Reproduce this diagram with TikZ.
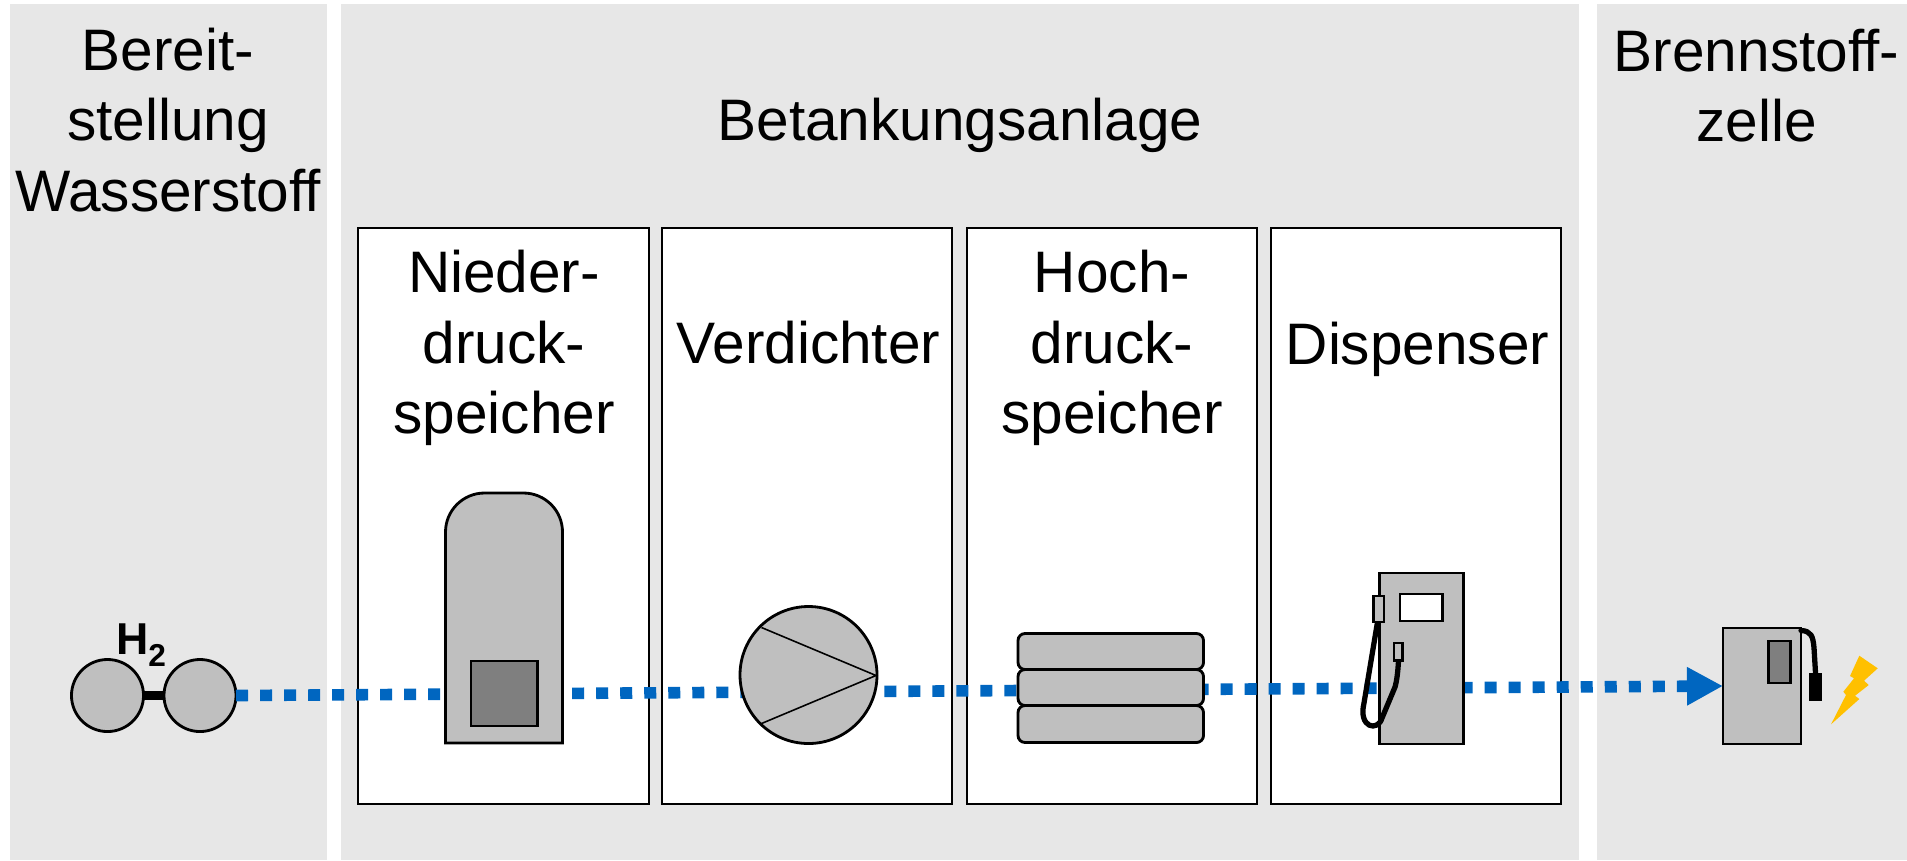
\documentclass[tikz,border=0pt]{standalone}
\usepackage{xcolor}
\usepackage{fontspec}
\setmainfont{Liberation Sans}
\usetikzlibrary{arrows.meta}
\definecolor{panelgray}{HTML}{E7E7E7}
\definecolor{icongray}{HTML}{BFBFBF}
\definecolor{darkgray}{HTML}{7F7F7F}
\definecolor{flowblue}{HTML}{0066C0}
\definecolor{boltyellow}{HTML}{FFC000}
\tikzset{
  headline/.style={font=\fontsize{16.65}{20}\selectfont, align=center, inner sep=0pt},
  stagebox/.style={draw=black, fill=white, line width=0.7pt},
  icon/.style={draw=black, fill=icongray, line width=0.8pt},
  darkicon/.style={draw=black, fill=darkgray, line width=0.8pt},
  hose/.style={draw=black, line width=1.5pt, line cap=round, line join=round},
}
\begin{document}
\begin{tikzpicture}[x=0.01cm, y=-0.01cm]
                \useasboundingbox (0,0) rectangle (1907,860);

                % Grey panels
                \fill[panelgray] (10,4) rectangle (327,860);
                \fill[panelgray] (341,4) rectangle (1579,860);
                \fill[panelgray] (1597,4) rectangle (1907,860);

                \node[headline] (bereit) at (168,120) {Bereit-\\stellung\\Wasserstoff};
                \node[headline] (anlage) at (960,125.5) {Betankungsanlage};
                \node[headline] (zelle) at (1756.5,85.5) {Brennstoff-\\zelle};

                % White stage boxes
                \draw[stagebox] (358,228) rectangle (649,804);
                \draw[stagebox] (662,228) rectangle (952,804);
                \draw[stagebox] (967,228) rectangle (1257,804);
                \draw[stagebox] (1271,228) rectangle (1561,804);

                \node[headline] (nieder) at (504,348) {Nieder-\\druck-\\speicher};
                \node[headline] (verdichter) at (808.5,343) {Verdichter};
                \node[headline] (hoch) at (1112,348) {Hoch-\\druck-\\speicher};
                \node[headline] (dispenser) at (1417.5,349) {Dispenser};

                % Hydrogen molecule
                \node[icon, circle, minimum size=0.72cm, inner sep=0pt, outer sep=0pt] (atomleft) at (107.5,695.5) {};
                \node[icon, circle, minimum size=0.72cm, inner sep=0pt, outer sep=0pt] (atomright) at (200,695.5) {};
                \draw[line width=2.3pt] (atomleft) -- (atomright);
                \node[font=\fontsize{12.7}{15}\selectfont\bfseries, inner sep=0pt] (htwo) at (141,645) {H\raisebox{-3.2pt}{\fontsize{9}{11}\selectfont 2}};

                % Fuel cell with cable and plug
                \node[icon, rectangle, minimum width=0.78cm, minimum height=1.16cm, inner sep=0pt, outer sep=0pt] (fcbox) at (1762,686) {};
                \draw[darkicon] (1768.5,641) rectangle (1790.5,683);
                \draw[hose] (1801,630.5) .. controls (1811,631) and (1813,636) .. (1814,648) -- (1815.5,673);
                \fill[black] (1809,673) rectangle (1821.5,701);
                \fill[boltyellow] (1859.3,655.7) -- (1877.7,668.3) -- (1864,680.7) -- (1868.7,685) -- (1855,695.7) -- (1859.3,699) -- (1831,724.3) -- (1846,695) -- (1843.3,691.7) -- (1854,678.3) -- (1850,676) -- cycle;

                % Hydrogen flow, runs behind the icons
                \draw[flowblue, line width=3.3pt, dash pattern=on 0.12cm off 0.12cm, -{Triangle[length=0.36cm, width=0.36cm]}] (atomright.east) -- (fcbox.west);

                % Storage tank
                \draw[icon] (445.5,743) [rounded corners=0.39cm] -- (445.5,493) -- (562.5,493) [sharp corners] -- (562.5,743) -- cycle;
                \draw[darkicon] (471,661) rectangle (537.5,726);

                % Compressor
                \draw[icon] (808.5,675) circle (68.5);
                \draw[line width=0.45pt] (761.5,627.5) -- (876,675.5) -- (761.5,723.5);

                % High pressure stack
                \draw[icon, rounded corners=0.07cm] (1018,633.5) rectangle (1203.5,669.5);
                \draw[icon, rounded corners=0.07cm] (1018,669.5) rectangle (1203.5,705.5);
                \draw[icon, rounded corners=0.07cm] (1018,705.5) rectangle (1203.5,742.5);

                % Dispenser
                \draw[icon] (1379.5,573) rectangle (1463.5,744);
                \draw[stagebox, line width=0.8pt] (1400,594) rectangle (1442.5,621);
                \draw[hose] (1377.5,622) -- (1364,703) .. controls (1358,728) and (1378,732) .. (1382,718) -- (1395,687) .. controls (1397,680) and (1398,670) .. (1398.5,660.5);
                \draw[icon] (1373.5,596) rectangle (1384,622);
                \draw[icon] (1394,643) rectangle (1402.5,660.5);
            \end{tikzpicture}
\end{document}
